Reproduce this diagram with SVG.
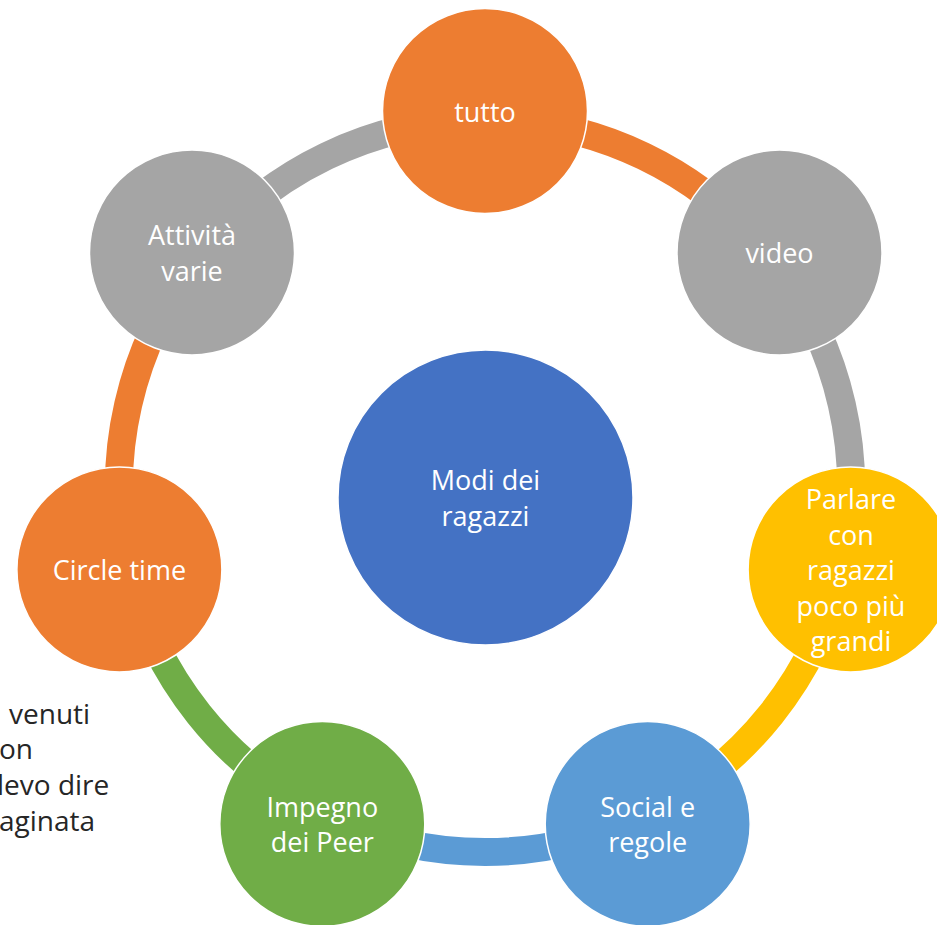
<svg xmlns="http://www.w3.org/2000/svg" width="937" height="925" viewBox="0 0 937 925">
<style>
.arc{fill:none;stroke-width:28;stroke-linecap:butt}
.node{stroke:#ffffff;stroke-width:1.5}
.lbl{font-family:"Open Sans","Noto Sans","Liberation Sans",sans-serif;font-size:27px;fill:#ffffff;text-anchor:middle}
.side{font-family:"Open Sans","Noto Sans","Liberation Sans",sans-serif;font-size:28px;fill:#262626}
</style>
<rect width="937" height="925" fill="#ffffff"/>
<g id="side-text">
<text class="side" x="9" y="724">venuti</text>
<text class="side" x="-1" y="759">on</text>
<text class="side" x="-3" y="795">levo dire</text>
<text class="side" x="-1" y="831">aginata</text>
</g>
<g id="connectors">
<path class="arc" stroke="#ED7D31" d="M 485 120 A 366 366 0 0 1 771.15 257.80"/>
<path class="arc" stroke="#A5A5A5" d="M 771.15 257.80 A 366 366 0 0 1 841.82 567.44"/>
<path class="arc" stroke="#FFC000" d="M 841.82 567.44 A 366 366 0 0 1 643.80 815.76"/>
<path class="arc" stroke="#5B9BD5" d="M 643.80 815.76 A 366 366 0 0 1 326.20 815.76"/>
<path class="arc" stroke="#70AD47" d="M 326.20 815.76 A 366 366 0 0 1 128.18 567.44"/>
<path class="arc" stroke="#ED7D31" d="M 128.18 567.44 A 366 366 0 0 1 198.85 257.80"/>
<path class="arc" stroke="#A5A5A5" d="M 198.85 257.80 A 366 366 0 0 1 485 120"/>
</g>
<g id="center">
<circle class="node" cx="485.5" cy="497.5" r="147.5" fill="#4472C4"/>
<text class="lbl" x="485.5" y="490">Modi dei</text>
<text class="lbl" x="485.5" y="525.5">ragazzi</text>
</g>
<g id="tutto">
<circle class="node" cx="485" cy="111" r="102.5" fill="#ED7D31"/>
<text class="lbl" x="485" y="121.5">tutto</text>
</g>
<g id="video">
<circle class="node" cx="779.5" cy="252.5" r="102.5" fill="#A5A5A5"/>
<text class="lbl" x="779.5" y="263">video</text>
</g>
<g id="parlare">
<circle class="node" cx="850.6" cy="569.4" r="102.5" fill="#FFC000"/>
<text class="lbl" x="851" y="509">Parlare</text>
<text class="lbl" x="851" y="544.5">con</text>
<text class="lbl" x="851" y="580">ragazzi</text>
<text class="lbl" x="851" y="615.5">poco più</text>
<text class="lbl" x="851" y="651">grandi</text>
</g>
<g id="social">
<circle class="node" cx="647.7" cy="823.9" r="102.5" fill="#5B9BD5"/>
<text class="lbl" x="647.7" y="816.6">Social e</text>
<text class="lbl" x="647.7" y="852.1">regole</text>
</g>
<g id="impegno">
<circle class="node" cx="322.3" cy="823.9" r="102.5" fill="#70AD47"/>
<text class="lbl" x="322.3" y="816.6">Impegno</text>
<text class="lbl" x="322.3" y="852.1">dei Peer</text>
</g>
<g id="circle-time">
<circle class="node" cx="119.4" cy="569.4" r="102.5" fill="#ED7D31"/>
<text class="lbl" x="119.4" y="580">Circle time</text>
</g>
<g id="attivita">
<circle class="node" cx="192" cy="252.5" r="102.5" fill="#A5A5A5"/>
<text class="lbl" x="192" y="245">Attività</text>
<text class="lbl" x="192" y="280.5">varie</text>
</g>
</svg>
